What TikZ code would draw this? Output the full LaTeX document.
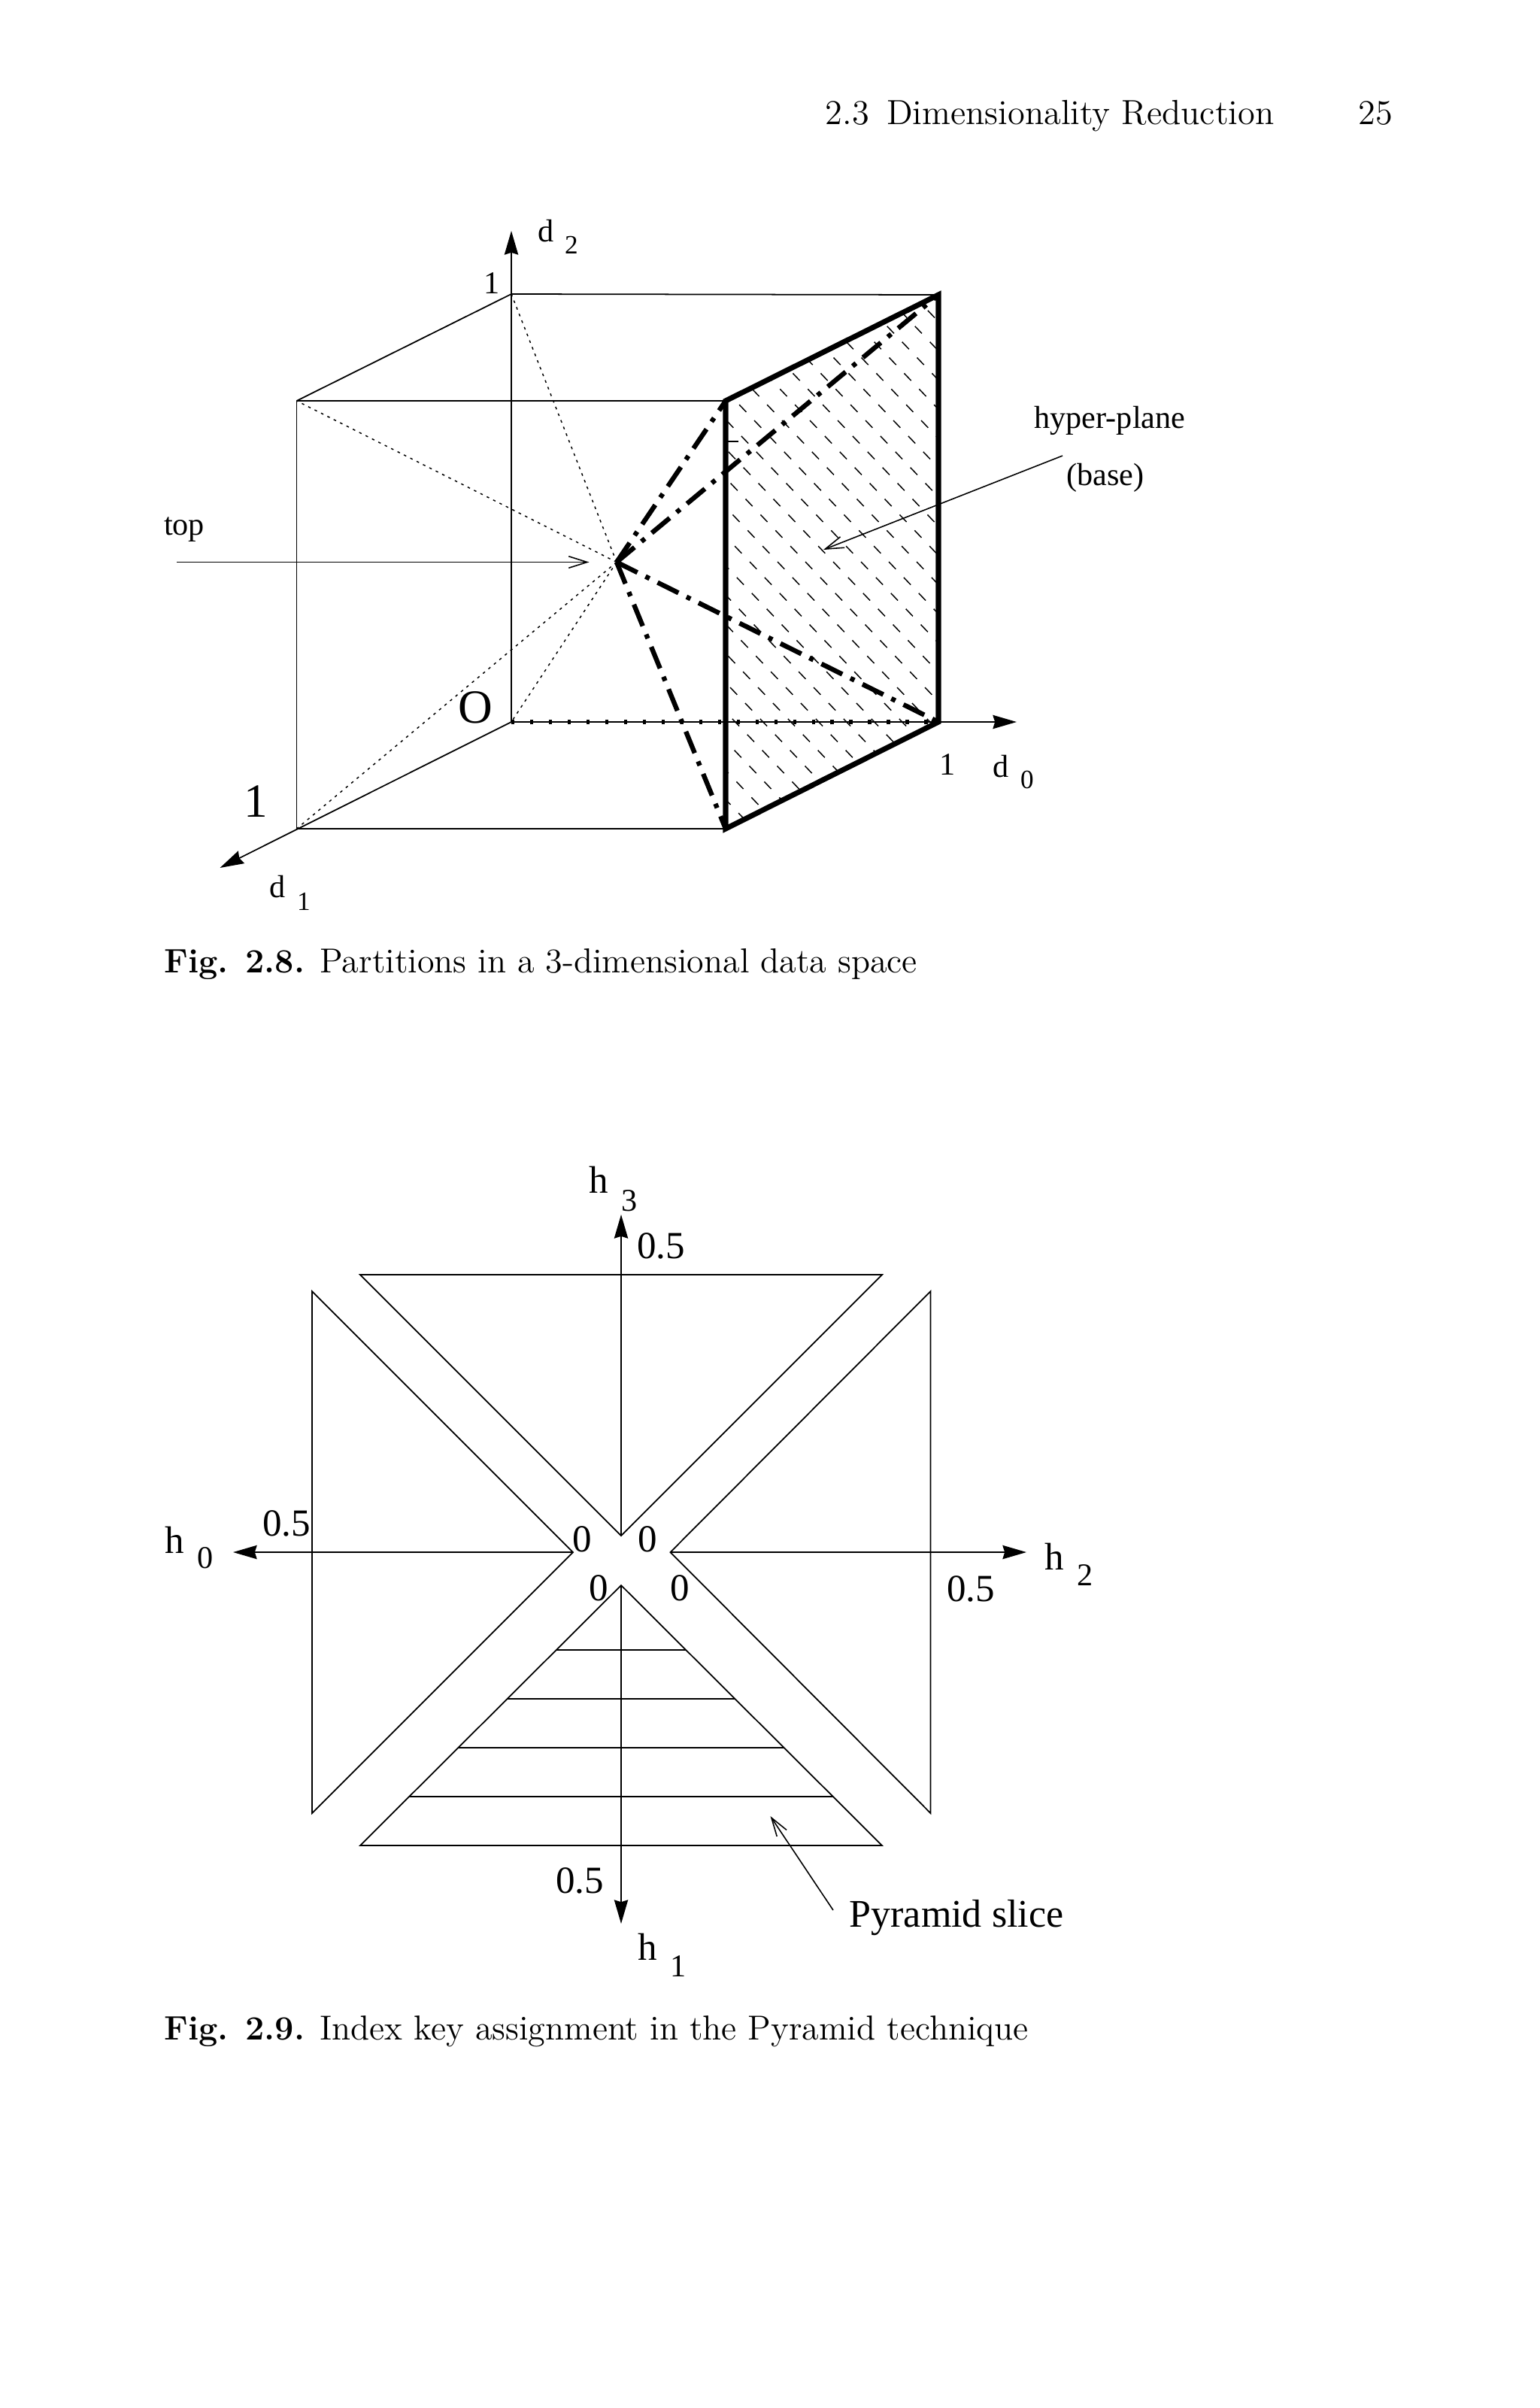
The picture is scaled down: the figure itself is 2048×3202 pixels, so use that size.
\documentclass[tikz,border=0pt]{standalone}
\usepackage{fontspec}
\usetikzlibrary{arrows.meta}
\newfontfamily\figfont{Liberation Serif}
\newcommand{\figtag}[1]{{\fontsize{12.8}{15}\selectfont\bfseries #1}}
\begin{document}
\begin{tikzpicture}[x=0.01cm,y=-0.01cm,
  every node/.style={inner sep=0pt},
  thinl/.style={line width=0.5pt},
  axisl/.style={line width=0.5pt,-{Stealth[length=9pt,width=5.2pt,inset=0.8pt]}},
  barbl/.style={line width=0.45pt,-{Straight Barb[length=7pt,width=4.4pt]}},
  dotl/.style={line width=0.42pt,dash pattern=on 1pt off 1.7pt},
  heavyl/.style={line width=2pt},
  ddl/.style={line width=1.8pt,dash pattern=on 8.8pt off 3.4pt on 1.7pt off 3.4pt},
  hatchl/.style={line width=0.42pt,dash pattern=on 3.8pt off 4.4pt},
  tickl/.style={line width=1.5pt,dash pattern=on 1.2pt off 5.9pt},
  smalllab/.style={font=\figfont\fontsize{12}{14}\selectfont},
  subsmall/.style={font=\figfont\fontsize{10}{12}\selectfont},
  biglab/.style={font=\figfont\fontsize{18}{20}\selectfont},
  midlab/.style={font=\figfont\fontsize{14.5}{16}\selectfont},
  submid/.style={font=\figfont\fontsize{12}{14}\selectfont},
  headlab/.style={font=\fontsize{13.2}{15}\selectfont,anchor=base west},
  caplab/.style={font=\fontsize{13.1}{15}\selectfont,anchor=base west}]
\useasboundingbox (0,0) rectangle (2048,3202);
\node[headlab] (head) at (1097,165) {2.3\hspace{0.5em}Dimensionality Reduction};
\node[headlab] (pageno) at (1806,165) {25};
\coordinate (O) at (680,960);
\coordinate (backtop) at (680,391);
\coordinate (fl) at (394.5,533);
\coordinate (bl) at (394.5,1102);
\coordinate (ft) at (965,533);
\coordinate (fb) at (965,1102);
\coordinate (rt) at (1248,392);
\coordinate (rb) at (1248,960);
\coordinate (ctr) at (820,747.5);
\begin{scope}
\clip (ft) -- (rt) -- (rb) -- (fb) -- cycle;
\foreach \c in {289,326,...,1248}
  \draw[hatchl] (\c,392) -- ++(676,710);
\end{scope}
\draw[thinl] (fl) -- (backtop) -- (rt);
\draw[thinl] (fl) -- (ft);
\draw[thinl] (fl) -- (bl) -- (fb);
\draw[axisl] (O) -- (680,307);
\draw[axisl] (O) -- (1352,960);
\draw[axisl] (O) -- (292.5,1154);
\draw[tickl] (O) -- (rb);
\foreach \p in {backtop,fl,bl,O}
  \draw[dotl] (ctr) -- (\p);
\foreach \p in {ft,rt,rb,fb}
  \draw[ddl] (ctr) -- (\p);
\draw[heavyl] (ft) -- (rt) -- (rb) -- (fb) -- cycle;
\draw[thinl] (968,587) -- (982,587);
\node[smalllab] (d2) at (726,307) {d};
\node[subsmall] (d2s) at (760,326) {2};
\node[smalllab] (one2) at (654,377) {1};
\node[smalllab] (top) at (245,704) {top};
\node[biglab] (orig) at (632,941) {O};
\node[biglab] (one1) at (340,1066) {1};
\node[smalllab] (d1) at (369,1179) {d};
\node[subsmall] (d1s) at (404,1199) {1};
\node[smalllab] (one0) at (1260,1017) {1};
\node[smalllab] (d0) at (1331,1019) {d};
\node[subsmall] (d0s) at (1366,1037) {0};
\node[smalllab] (hyper) at (1476,559) {hyper-plane};
\node[smalllab] (base) at (1470,635) {(base)};
\coordinate (topst) at (235,747.5);
\coordinate (topen) at (783.5,747.5);
\coordinate (hypst) at (1413,606);
\coordinate (hypen) at (1095,731);
\draw[barbl] (topst) -- (topen);
\draw[barbl] (hypst) -- (hypen);
\node[caplab] (cap1) at (218,1293) {\figtag{Fig. 2.8.} Partitions in a 3-dimensional data space};
\coordinate (ct) at (826,2064);
\coordinate (ta) at (479,1695);
\coordinate (tb) at (1173,1695);
\coordinate (tc) at (826,2042);
\coordinate (ba) at (479,2454);
\coordinate (bb) at (1173,2454);
\coordinate (bc) at (826,2108);
\coordinate (la) at (415,1717);
\coordinate (lb) at (415,2411);
\coordinate (lc) at (762,2064);
\coordinate (ra) at (1237.5,1717);
\coordinate (rbb) at (1237.5,2411);
\coordinate (rc) at (891.5,2064);
\draw[thinl] (ta) -- (tb) -- (tc) -- cycle;
\draw[thinl] (ba) -- (bb) -- (bc) -- cycle;
\draw[thinl] (la) -- (lb) -- (lc) -- cycle;
\draw[thinl] (ra) -- (rbb) -- (rc) -- cycle;
\draw[axisl] (tc) -- (826,1615);
\draw[axisl] (bc) -- (826,2558);
\draw[axisl] (lc) -- (310,2064);
\draw[axisl] (rc) -- (1365,2064);
\foreach \y/\w in {2194/86.2,2259/151.4,2324/216.6,2389/281.8}
  \draw[thinl] ({826-\w},\y) -- ({826+\w},\y);
\node[midlab] (h3) at (796,1569) {h};
\node[submid] (h3s) at (837,1597) {3};
\node[midlab] (v3) at (879,1657) {0.5};
\node[midlab] (h0) at (232,2048) {h};
\node[submid] (h0s) at (273,2072) {0};
\node[midlab] (v0) at (381,2026) {0.5};
\node[midlab] (h2) at (1402,2070) {h};
\node[submid] (h2s) at (1443,2094) {2};
\node[midlab] (v2) at (1291,2113) {0.5};
\node[midlab] (h1) at (861,2589) {h};
\node[submid] (h1s) at (902,2615) {1};
\node[midlab] (v1) at (771,2501) {0.5};
\node[midlab] (z0) at (774,2047) {0};
\node[midlab] (z3) at (861,2047) {0};
\node[midlab] (z1) at (796,2112) {0};
\node[midlab] (z2) at (904,2112) {0};
\node[font=\figfont\fontsize{14.8}{16}\selectfont] (slice) at (1272,2550) {Pyramid slice};
\coordinate (slst) at (1108,2540);
\coordinate (slen) at (1024.5,2415);
\draw[barbl] (slst) -- (slen);
\node[caplab] (cap2) at (218,2712) {\figtag{Fig. 2.9.} Index key assignment in the Pyramid technique};
\end{tikzpicture}
\end{document}
